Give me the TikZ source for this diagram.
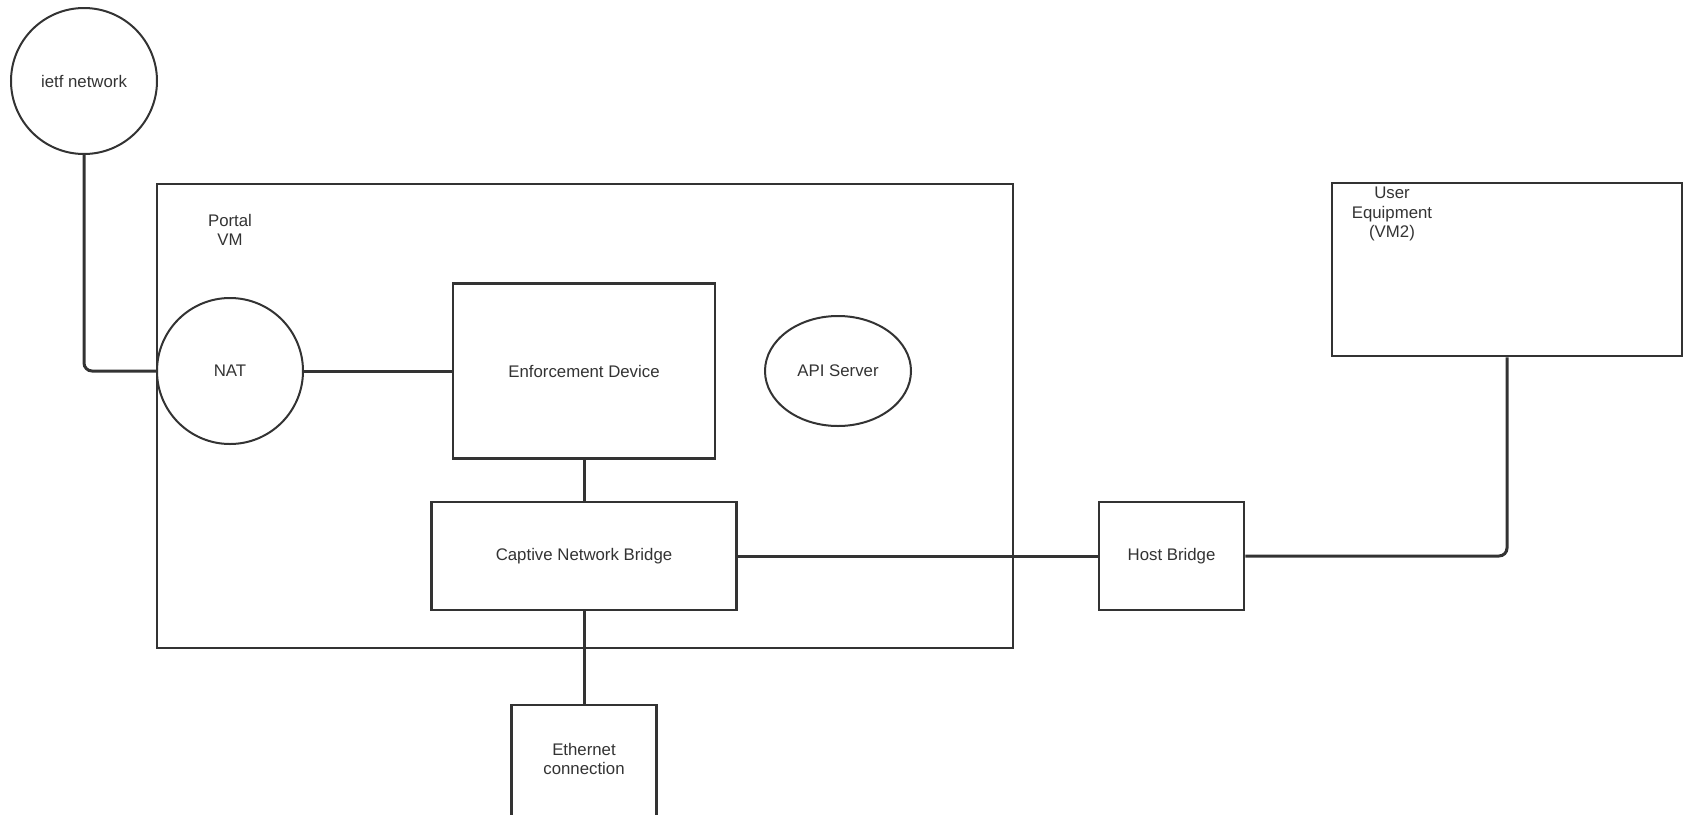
\documentclass[tikz,border=0pt]{standalone}
\usepackage{fontspec}
\setmainfont{Liberation Sans}
\usepackage{xcolor}
\usepackage{tikz}
\usetikzlibrary{shapes.geometric, positioning, calc}
\definecolor{inkgray}{HTML}{333333}
\tikzstyle{device} = [rectangle, draw=inkgray, line width=2.6pt, text=inkgray, align=center, inner sep=0pt]
\tikzstyle{cloud} = [circle, draw=inkgray, line width=2pt, text=inkgray, align=center, minimum size=146pt, inner sep=0pt]
\tikzstyle{server} = [ellipse, draw=inkgray, line width=2pt, text=inkgray, align=center, minimum width=146pt, minimum height=110pt, inner sep=0pt]
\tikzstyle{frame} = [rectangle, draw=inkgray, line width=1.4pt, inner sep=0pt]
\tikzstyle{caption} = [text=inkgray, align=center, inner sep=0pt]
\tikzstyle{wire} = [draw=inkgray, line width=3pt]

\begin{document}
\begin{tikzpicture}[x=1pt, y=-1pt, font=\fontsize{16.8}{19.5}\selectfont]
\useasboundingbox (0,0) rectangle (1685,814);

% portal VM and its parts
\node (portal) [frame, minimum width=856pt, minimum height=464pt] at (585,416) {};
\node (portallabel) [caption] at (230,230) {Portal\\VM};
\node (ietf) [cloud] at (84,81) {ietf network};
\node (nat) [cloud] at (230,371) {NAT};
\node (ed) [device, minimum width=262pt, minimum height=175pt] at (584,371) {Enforcement Device};
\node (api) [server] at (838,371) {API Server};
\node (cnb) [device, minimum width=305pt, minimum height=108pt] at (584,556) {Captive Network Bridge};
\node (eth) [device, minimum width=145pt, minimum height=130pt] at (584,770) {};
\node (ethlabel) [caption] at (584,759) {Ethernet\\connection};

% host side
\node (hb) [device, minimum width=145pt, minimum height=108pt] at (1171.5,556) {Host Bridge};
\node (ue) [device, minimum width=350pt, minimum height=173pt] at (1507,269.5) {};
\node (uelabel) [caption] at (1392,214) {User\\Equipment\\(VM2)};

\draw [wire, rounded corners=8pt] (ietf.south) |- (nat.west);
\draw [wire] (nat.east) -- (ed.west |- nat.east);
\draw [wire] (ed.south) -- (cnb.north);
\draw [wire] (cnb.south) -- (eth.north);
\draw [wire] (cnb.east) -- (hb.west);
\draw [wire, rounded corners=8pt] (hb.east) -| (ue.south);

\end{tikzpicture}
\end{document}
